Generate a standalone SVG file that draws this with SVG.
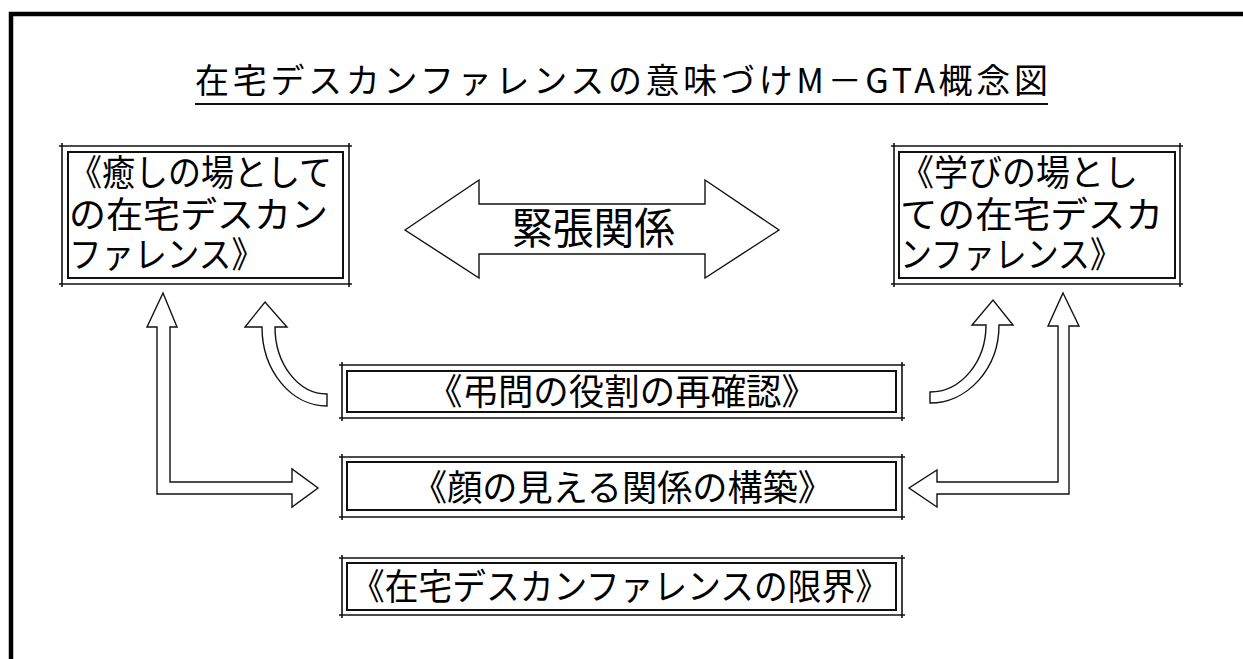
<svg xmlns="http://www.w3.org/2000/svg" width="1243" height="659" viewBox="0 0 1243 659">
<style>
text{font-family:"Noto Sans CJK JP","Noto Sans CJK SC",sans-serif;fill:#000;font-weight:400}
.o{fill:none;stroke:#111;stroke-width:1.6}
.i{fill:#fff;stroke:#111;stroke-width:2}
.ar{fill:#fff;stroke:#111;stroke-width:1.4;stroke-linejoin:miter}
.n{font-size:36px}
.m{font-size:36px}
</style>
<rect width="1243" height="659" fill="#fff"/>
<path d="M11,700V14H1260" fill="none" stroke="#000" stroke-width="4.5"/>
<g id="title">
<text x="195" y="93" font-size="34" textLength="853" lengthAdjust="spacing">在宅デスカンファレンスの意味づけM－GTA概念図</text>
<line x1="195" y1="104" x2="1048" y2="104" stroke="#111" stroke-width="2"/>
</g>
<g id="connectors">
<polygon class="ar" points="405,230 479,180 479,204 705,204 705,180 779,230 705,278 705,254 479,254 479,278"/>
<polygon class="ar" points="163,293 177,327 170,327 170,482 292,482 292,469 318,488 292,507 292,494 157,494 157,327 147,327"/>
<polygon class="ar" points="1063,293 1079,326 1069,326 1069,494 937,494 937,507 909,488 937,470 937,482 1058,482 1058,326 1048,326"/>
<path class="ar" d="M262 327A65 79 0 0 0 327 406L327 394A52 67 0 0 1 275 327L287 327L265 302L245 327Z"/>
<path class="ar" d="M999 325A69 78 0 0 1 930 403L930 392A56 67 0 0 0 986 325L972 325L993 300L1013 325Z"/>
<text x="512" y="244" font-size="43" textLength="163" lengthAdjust="spacingAndGlyphs">緊張関係</text>
</g>
<g id="node-iyashi">
<path class="o" d="M59 146H352M59 284H352M62 143V287M349 143V287"/>
<rect class="i" x="68" y="152" width="275" height="126"/>
<text class="n" x="69" y="186" textLength="263" lengthAdjust="spacingAndGlyphs">《癒しの場として</text>
<text class="n" x="69" y="228" textLength="259" lengthAdjust="spacingAndGlyphs">の在宅デスカン</text>
<text class="n" x="69" y="268" textLength="195" lengthAdjust="spacingAndGlyphs">ファレンス》</text>
</g>
<g id="node-manabi">
<path class="o" d="M891 146H1183M891 284H1183M894 143V287M1180 143V287"/>
<rect class="i" x="899" y="152" width="276" height="126"/>
<text class="n" x="900" y="186" textLength="238" lengthAdjust="spacingAndGlyphs">《学びの場とし</text>
<text class="n" x="900" y="228" textLength="263" lengthAdjust="spacingAndGlyphs">ての在宅デスカ</text>
<text class="n" x="900" y="268" textLength="222" lengthAdjust="spacingAndGlyphs">ンファレンス》</text>
</g>
<g id="node-choumon">
<path class="o" d="M339 365H905M339 418H905M342 362V421M902 362V421"/>
<rect class="i" x="347" y="371" width="549" height="41"/>
<text class="m" x="427" y="405" textLength="390" lengthAdjust="spacingAndGlyphs">《弔問の役割の再確認》</text>
</g>
<g id="node-kao">
<path class="o" d="M339 457H905M339 517H905M342 454V520M902 454V520"/>
<rect class="i" x="347" y="462" width="549" height="48"/>
<text class="m" x="412" y="501" textLength="421" lengthAdjust="spacingAndGlyphs">《顔の見える関係の構築》</text>
</g>
<g id="node-genkai">
<path class="o" d="M339 558H905M339 615H905M342 555V618M902 555V618"/>
<rect class="i" x="347" y="563" width="549" height="47"/>
<text class="m" x="351" y="600" textLength="538" lengthAdjust="spacingAndGlyphs">《在宅デスカンファレンスの限界》</text>
</g>
</svg>
